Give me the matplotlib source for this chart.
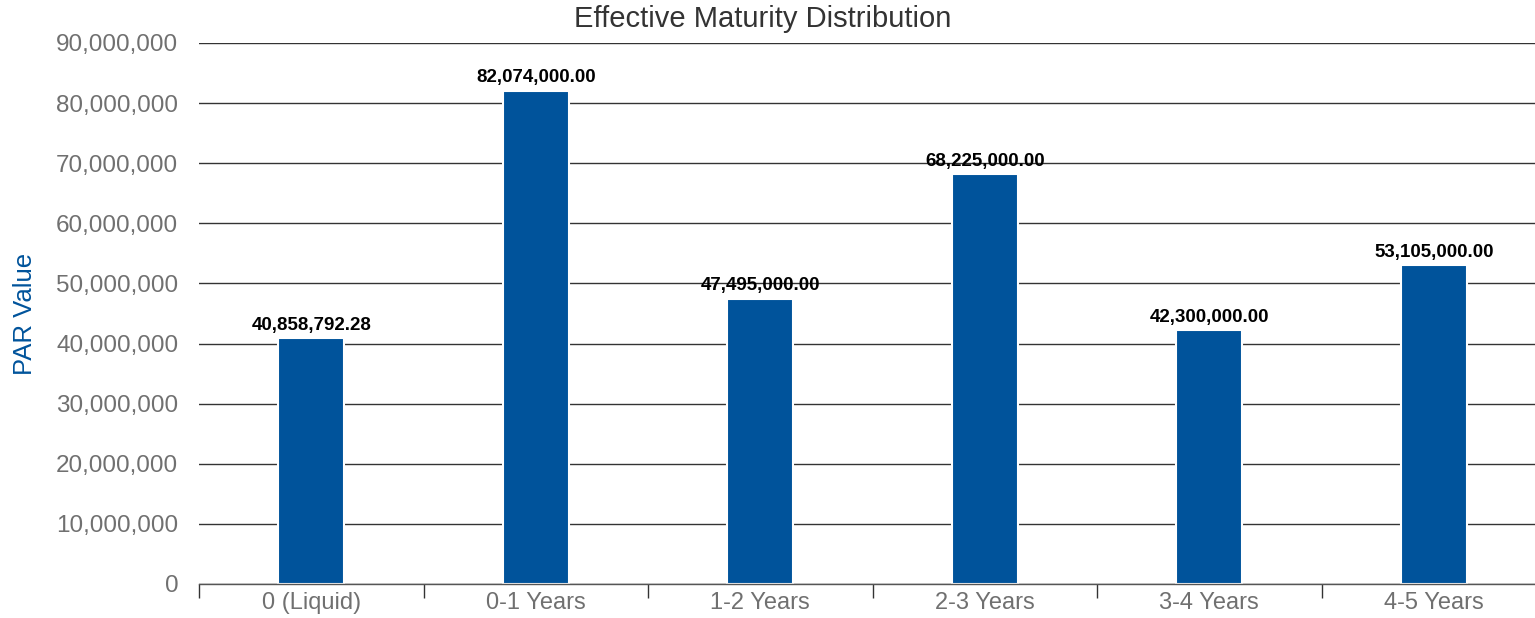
import matplotlib.pyplot as plt
from matplotlib.ticker import FuncFormatter, MultipleLocator
import numpy as np

# dados
categories = ['0 (Liquid)', '0-1 Years', '1-2 Years', '2-3 Years', '3-4 Years', '4-5 Years']
par_values = [40858792.28, 82074000.00, 47495000.00, 68225000.00, 42300000.00, 53105000.00]

BAR_COLOR = '#00539B'
GRAY = '#707070'

plt.rcParams['font.family'] = ['Liberation Sans', 'DejaVu Sans']

fig = plt.figure(figsize=(15.35, 6.18), dpi=100)
ax = fig.add_axes([199 / 1535, 34 / 618, 1347 / 1535, 541 / 618])

x = np.arange(len(categories))
bars = ax.bar(x, par_values, width=0.295, color=BAR_COLOR, edgecolor='white',
              linewidth=1.5, zorder=3)

for xi, v in zip(x, par_values):
    ax.text(xi, v + 700000, f'{v:,.2f}', ha='center', va='bottom',
            fontsize=13.5, fontweight='bold', color='black', zorder=4)

ax.set_xlim(-0.5, len(categories) - 0.5)
ax.set_ylim(0, 90000000)
ax.yaxis.set_major_locator(MultipleLocator(10000000))
ax.yaxis.set_major_formatter(FuncFormatter(lambda v, p: f'{v:,.0f}'))
ax.grid(axis='y', color='#333333', linewidth=1.0, zorder=1)
ax.set_axisbelow(True)

for s in ['top', 'right', 'left']:
    ax.spines[s].set_visible(False)
ax.spines['bottom'].set_color('#555555')
ax.spines['bottom'].set_linewidth(1.0)
ax.spines['bottom'].set_zorder(5)

ax.tick_params(axis='y', length=0, pad=15, labelsize=17.5, labelcolor=GRAY)
ax.set_xticks(x)
ax.set_xticklabels(categories)
ax.tick_params(axis='x', length=0, pad=6, labelsize=17, labelcolor=GRAY)
# ticks nas fronteiras das categorias
ax.set_xticks(np.arange(len(categories) + 1) - 0.5, minor=True)
ax.tick_params(axis='x', which='minor', length=10, width=1, color='#333333', direction='out')

ax.set_ylabel('PAR Value', fontsize=18.5, color=BAR_COLOR)
ax.yaxis.set_label_coords(-162 / 1347, 0.5)

fig.text(763 / 1535, 1 - 19 / 618, 'Effective Maturity Distribution', ha='center', va='center',
         fontsize=21, color='#333333')

fig.savefig('out.png', dpi=100, facecolor='white')
